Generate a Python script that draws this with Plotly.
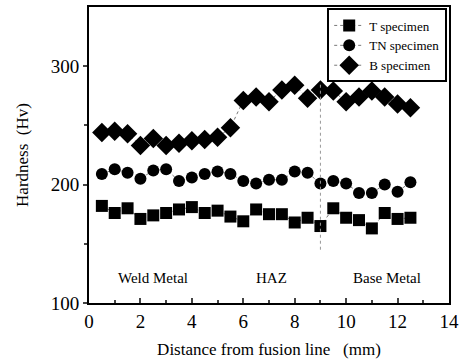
import plotly.graph_objects as go

x = [0.5, 1.0, 1.5, 2.0, 2.5, 3.0, 3.5, 4.0, 4.5, 5.0, 5.5, 6.0, 6.5,
     7.0, 7.5, 8.0, 8.5, 9.0, 9.5, 10.0, 10.5, 11.0, 11.5, 12.0, 12.5]
t_spec = [182, 176, 180, 171, 174, 176, 179, 181, 176, 178, 173, 169, 179,
          175, 175, 168, 172, 165, 180, 172, 170, 163, 176, 171, 172]
tn_spec = [209, 213, 210, 205, 212, 213, 203, 206, 209, 211, 209, 203, 201,
           204, 204, 211, 210, 201, 203, 201, 193, 193, 200, 194, 202]
b_spec = [244, 245, 243, 233, 239, 233, 235, 237, 238, 240, 248, 271, 274,
          270, 280, 284, 273, 280, 279, 270, 274, 279, 274, 268, 265]
series_names = ["T specimen", "TN specimen", "B specimen"]
symbols = ["square", "circle", "diamond"]
zone_labels = ["Weld Metal", "HAZ", "Base Metal"]
zone_x = [2.5, 7.1, 11.6]
zone_y = [121, 121, 121]

FONT = "Liberation Serif, Times New Roman, DejaVu Serif, serif"
fig = go.Figure()
for ys, name, sym in zip([t_spec, tn_spec, b_spec], series_names, symbols):
    fig.add_trace(go.Scatter(
        x=x, y=ys, name=name, mode="lines+markers",
        line=dict(color="#555555", width=0.8, dash="dot"),
        marker=dict(symbol=sym, color="black", size=12 if sym != "diamond" else 15,
                    line=dict(width=0)),
    ))

fig.add_shape(type="line", x0=9, x1=9, y0=145, y1=285, xref="x", yref="y",
              line=dict(color="#999999", width=1, dash="dot"))

for lbl, zx, zy in zip(zone_labels, zone_x, zone_y):
    fig.add_annotation(x=zx, y=zy, text=lbl, showarrow=False,
                       font=dict(family=FONT, size=15, color="black"))

fig.update_layout(
    width=464, height=361,
    margin=dict(l=89, r=13, t=5, b=56),
    paper_bgcolor="white", plot_bgcolor="white",
    font=dict(family=FONT, color="black"),
    showlegend=True,
    legend=dict(x=0.995, y=0.995, xanchor="right", yanchor="top",
                bordercolor="black", borderwidth=2, bgcolor="white",
                font=dict(family=FONT, size=13, color="black"), tracegroupgap=0,
                itemwidth=30),
)
fig.update_xaxes(range=[0, 14], dtick=2, ticks="inside", ticklen=5, tickwidth=1.5,
                 minor=dict(dtick=1, ticks="inside", ticklen=3),
                 showline=True, linecolor="black", linewidth=2, mirror=True,
                 showgrid=False, zeroline=False,
                 tickfont=dict(family=FONT, size=19, color="black"),
                 title=dict(text="Distance from fusion line   (mm)",
                            font=dict(family=FONT, size=17), standoff=12))
fig.update_yaxes(range=[100, 350], tickvals=[100, 200, 300], ticks="outside",
                 ticklen=4, tickwidth=1.5,
                 minor=dict(tickvals=[150, 250], ticks="outside", ticklen=3),
                 showline=True, linecolor="black", linewidth=2, mirror=True,
                 showgrid=False, zeroline=False,
                 tickfont=dict(family=FONT, size=19, color="black"),
                 title=dict(text="Hardness  (Hv)",
                            font=dict(family=FONT, size=17), standoff=18))

fig.write_html("out.html")
